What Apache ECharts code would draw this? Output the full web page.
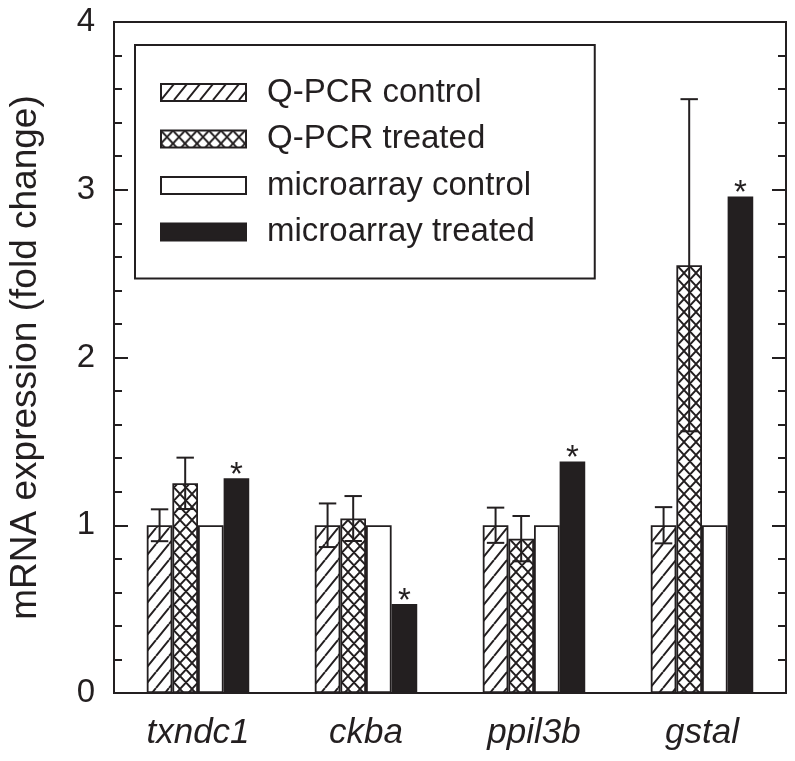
<!DOCTYPE html>
<html>
<head>
<meta charset="utf-8">
<script src="https://cdn.jsdelivr.net/npm/echarts@6/dist/echarts.min.js"></script>
<style>
  html, body { margin: 0; padding: 0; background: #fff; }
  #chart { width: 795px; height: 761px; }
</style>
</head>
<body>
<div id="chart"></div>
<script>
const categories = ['txndc1', 'ckba', 'ppil3b', 'gstal'];
const seriesNames = ['Q-PCR control', 'Q-PCR treated', 'microarray control', 'microarray treated'];
const qpcrControl = [1, 1, 1, 1];
const qpcrControlErr = [0.095, 0.13, 0.105, 0.108];
const qpcrTreated = [1.25, 1.04, 0.92, 2.55];
const qpcrTreatedErr = [0.153, 0.134, 0.135, 0.99];
const microarrayControl = [1, 1, 1, 1];
const microarrayTreated = [1.28, 0.53, 1.38, 2.96];
const significant = [true, true, true, true];
const yTicks = [0, 1, 2, 3, 4];

const INK = '#231f20';

function makeHatch() {
  const w = 13, h = 16;
  const c = document.createElement('canvas');
  c.width = w; c.height = h;
  const g = c.getContext('2d');
  g.fillStyle = '#fff'; g.fillRect(0, 0, w, h);
  g.strokeStyle = INK; g.lineWidth = 2;
  g.beginPath();
  for (let k = -1; k <= 1; k++) {
    g.moveTo(k * w, h); g.lineTo(k * w + w, 0);
  }
  g.stroke();
  return c;
}
function makeCross() {
  const w = 12, h = 13;
  const c = document.createElement('canvas');
  c.width = w; c.height = h;
  const g = c.getContext('2d');
  g.fillStyle = '#fff'; g.fillRect(0, 0, w, h);
  g.strokeStyle = INK; g.lineWidth = 1.9;
  g.beginPath();
  for (let k = -1; k <= 1; k++) {
    g.moveTo(k * w, h); g.lineTo(k * w + w, 0);
    g.moveTo(k * w, 0); g.lineTo(k * w + w, h);
  }
  g.stroke();
  return c;
}

const hatchPattern = { image: makeHatch(), repeat: 'repeat' };
const crossPattern = { image: makeCross(), repeat: 'repeat' };

const BAR_CAT_GAP = 0.39;
const N_BARS = 4;

const chart = echarts.init(document.getElementById('chart'), null, { renderer: 'canvas' });

function barSeries(name, data, fill, extra) {
  return Object.assign({
    name: name,
    type: 'bar',
    data: data,
    barGap: '0%',
    barCategoryGap: (BAR_CAT_GAP * 100) + '%',
    itemStyle: { color: fill, borderColor: INK, borderWidth: 1.8 },
    emphasis: { disabled: true },
    z: 2
  }, extra || {});
}

const errData = [];
categories.forEach((c, i) => {
  errData.push([i, qpcrControl[i], qpcrControlErr[i], 0]);
  errData.push([i, qpcrTreated[i], qpcrTreatedErr[i], 1]);
});

const option = {
  animation: false,
  grid: {
    left: 114, right: 9, top: 22, bottom: 68,
    containLabel: false,
    outerBoundsMode: 'none',
    show: true, borderColor: INK, borderWidth: 2, backgroundColor: 'transparent'
  },
  legend: {
    orient: 'vertical',
    left: 135, top: 45,
    padding: [31, 60, 30, 25],
    icon: 'rect',
    itemWidth: 85, itemHeight: 17,
    itemGap: 13.5,
    borderColor: INK, borderWidth: 2,
    backgroundColor: '#fff',
    data: seriesNames,
    textStyle: {
      fontFamily: 'Liberation Sans, Arial, sans-serif',
      fontSize: 33, color: INK,
      padding: [0, 0, 0, 16]
    },
    selectedMode: false
  },
  xAxis: {
    type: 'category',
    data: categories,
    axisLine: { show: true, lineStyle: { color: INK, width: 2 } },
    axisTick: { show: false },
    axisLabel: {
      margin: 23,
      fontFamily: 'Liberation Sans, Arial, sans-serif',
      fontStyle: 'italic', fontSize: 35, color: INK
    },
    splitLine: { show: false }
  },
  yAxis: [
    {
      type: 'value', min: 0, max: 4, interval: 1,
      name: 'mRNA expression (fold change)',
      nameLocation: 'middle', nameGap: 70,
      nameMoveOverlap: false,
      nameTextStyle: { fontFamily: 'Liberation Sans, Arial, sans-serif', fontSize: 37, color: INK },
      axisLine: { show: true, lineStyle: { color: INK, width: 2 } },
      axisTick: { show: true, inside: true, length: 14, lineStyle: { color: INK, width: 2 } },
      minorTick: { show: true, splitNumber: 5, length: 8, lineStyle: { color: INK, width: 2 } },
      axisLabel: {
        margin: 19,
        fontFamily: 'Liberation Sans, Arial, sans-serif', fontSize: 33, color: INK,
        formatter: v => (yTicks.indexOf(v) >= 0 ? String(v) : '')
      },
      splitLine: { show: false }
    },
    {
      type: 'value', min: 0, max: 4, interval: 1, position: 'right',
      axisLine: { show: true, lineStyle: { color: INK, width: 2 } },
      axisTick: { show: true, inside: true, length: 14, lineStyle: { color: INK, width: 2 } },
      minorTick: { show: true, splitNumber: 5, length: 8, lineStyle: { color: INK, width: 2 } },
      axisLabel: { show: false },
      splitLine: { show: false }
    }
  ],
  series: [
    barSeries(seriesNames[0], qpcrControl, hatchPattern),
    barSeries(seriesNames[1], qpcrTreated, crossPattern),
    barSeries(seriesNames[2], microarrayControl, '#ffffff'),
    barSeries(seriesNames[3], microarrayTreated.map((v, i) => ({
      value: v,
      label: { show: significant[i] }
    })), INK, {
      label: {
        show: true, position: 'top', distance: -14,
        formatter: '*',
        fontFamily: 'Liberation Sans, Arial, sans-serif', fontSize: 33, color: INK
      }
    }),
    {
      type: 'custom',
      name: 'error',
      z: 5,
      silent: true,
      data: errData,
      renderItem: function (params, api) {
        const ci = api.value(0), v = api.value(1), e = api.value(2), si = api.value(3);
        const band = api.size([1, 0])[0];
        const bw = band * (1 - BAR_CAT_GAP) / N_BARS;
        const center = api.coord([ci, v])[0];
        const x = center + (si - (N_BARS - 1) / 2) * bw;
        const yTop = api.coord([ci, v + e])[1];
        const yBot = api.coord([ci, v - e])[1];
        const cap = bw * 0.34;
        const st = { stroke: INK, lineWidth: 2 };
        return {
          type: 'group',
          children: [
            { type: 'line', shape: { x1: x, y1: yTop, x2: x, y2: yBot }, style: st },
            { type: 'line', shape: { x1: x - cap, y1: yTop, x2: x + cap, y2: yTop }, style: st },
            { type: 'line', shape: { x1: x - cap, y1: yBot, x2: x + cap, y2: yBot }, style: st }
          ]
        };
      }
    }
  ]
};

chart.setOption(option);
</script>
</body>
</html>
